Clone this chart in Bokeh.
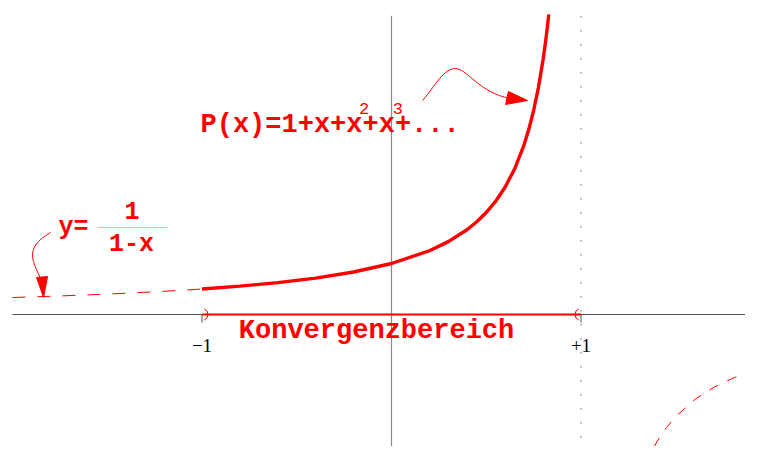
from bokeh.plotting import figure
from bokeh.embed import file_html
from bokeh.resources import INLINE
from bokeh.core.properties import value

# ---- data: y = 1/(1-x) ----
main_x = [-1.0, -0.8, -0.6, -0.4, -0.2, 0.0, 0.2, 0.3, 0.4, 0.45, 0.5, 0.55, 0.6, 0.65,
          0.7, 0.725, 0.75, 0.775, 0.8, 0.81, 0.82, 0.83]
main_y = [0.5, 0.556, 0.625, 0.714, 0.833, 1.0, 1.25, 1.429, 1.667, 1.818, 2.0, 2.222, 2.5, 2.857,
          3.333, 3.636, 4.0, 4.444, 5.0, 5.263, 5.556, 5.882]
left_x = [-2.0, -1.8, -1.6, -1.4, -1.2, -1.0]
left_y = [0.333, 0.357, 0.385, 0.417, 0.455, 0.5]
right_x = [1.34, 1.37, 1.4, 1.45, 1.5, 1.6, 1.7, 1.8, 1.9, 1.95]
right_y = [-2.94, -2.70, -2.5, -2.22, -2.0, -1.667, -1.429, -1.25, -1.111, -1.053]

interval = [-1.0, 1.0]
tick_x = [-1.0, 1.0]
tick_labels = ["\u22121", "+1"]

RED = "#ff0000"
MONO = value("Liberation Mono")

p = figure(width=745, height=446, output_backend="svg", toolbar_location=None,
           x_range=(-2.0633, 1.8681), y_range=(-2.588, 6.157),
           x_axis_type=None, y_axis_type=None, min_border=0)
p.grid.visible = False
p.outline_line_color = None
p.background_fill_color = "white"

# axes
p.line([-1.9995, 1.95], [0, 0], line_color="#555555", line_width=1)
p.line([0, 0], [5.86, -2.8], line_color="#8a8a8a", line_width=1.2)
p.line([1, 1], [5.86, -2.8], line_color="#aaaaaa", line_width=1.5, line_dash="2 12")
p.segment(x0=tick_x, y0=[0, 0], x1=tick_x, y1=[-0.16, -0.16], line_color="#555555", line_width=1)

# curves
p.line(left_x, left_y, line_color=RED, line_width=1, line_dash="13 12")
p.line(right_x, right_y, line_color=RED, line_width=1, line_dash="10 10")
p.line(main_x, main_y, line_color=RED, line_width=3.4)

# convergence interval
p.line(interval, [0, 0], line_color=RED, line_width=2)
p.arc(x=[-1.0], y=[0.0], radius=6, radius_units="screen", start_angle=-1.2, end_angle=1.2,
      line_color=RED, line_width=1)
p.arc(x=[1.0], y=[0.0], radius=6, radius_units="screen", start_angle=1.94, end_angle=4.34,
      line_color=RED, line_width=1)

# tick labels
p.text(x=tick_x, y=[-0.617, -0.617], text=tick_labels, text_align="center",
       text_baseline="alphabetic", text_font=value("Liberation Serif"), text_font_size="19px",
       text_color="black")

# texts
p.text(x=[-0.079], y=[-0.333], text=["Konvergenzbereich"], text_align="center",
       text_baseline="alphabetic", text_font=MONO, text_font_style="bold",
       text_font_size="27px", text_color=RED)
p.text(x=[-1.008], y=[3.725], text=["P(x)=1+x+x+x+..."], text_align="left",
       text_baseline="alphabetic", text_font=MONO, text_font_style="bold",
       text_font_size="27px", text_color=RED)
p.text(x=[-0.145, 0.034], y=[4.04, 4.04], text=["2", "3"], text_align="center",
       text_baseline="middle", text_font=MONO, text_font_size="17px", text_color=RED)

p.text(x=[-1.757], y=[1.706], text=["y="], text_align="left", text_baseline="alphabetic",
       text_font=MONO, text_font_style="bold", text_font_size="25px", text_color=RED)
p.text(x=[-1.369, -1.372], y=[2.039, 1.373], text=["1", "1-x"], text_align="center",
       text_baseline="alphabetic", text_font=MONO, text_font_style="bold",
       text_font_size="25px", text_color=RED)
p.line([-1.551, -1.182], [1.706, 1.706], line_color="#ffaaaa", line_width=1)

# arrows
p.bezier(x0=[-1.799], y0=[1.608], cx0=[-1.947], cy0=[1.294], cx1=[-1.889], cy1=[1.020],
         x1=[-1.847], y1=[0.667], line_color=RED, line_width=1)
p.patch([-1.836, -1.873, -1.815], [0.333, 0.725, 0.745], fill_color=RED, line_color=RED)

p.bezier(x0=[0.164, 0.338], y0=[4.196, 4.824], cx0=[0.232, 0.406], cy0=[4.490, 4.804],
         cx1=[0.274, 0.459], cy1=[4.824, 4.353], x1=[0.338, 0.628], y1=[4.824, 4.235],
         line_color=RED, line_width=1)
p.patch([0.718, 0.617, 0.602], [4.196, 4.373, 4.118], fill_color=RED, line_color=RED)

open("out.html", "w").write(file_html(p, INLINE))
